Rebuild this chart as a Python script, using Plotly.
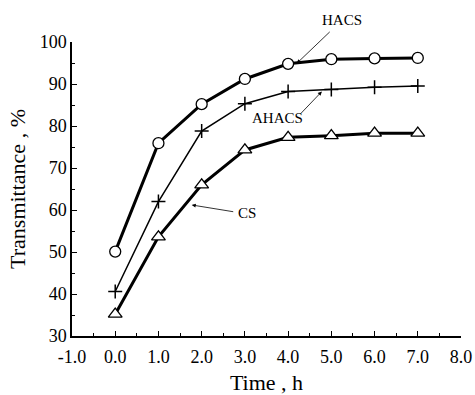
import plotly.graph_objects as go

time_h = [0, 1, 2, 3, 4, 5, 6, 7]
hacs = [50.1, 75.9, 85.2, 91.2, 94.8, 95.9, 96.1, 96.2]
ahacs = [40.6, 62.0, 78.8, 85.3, 88.2, 88.7, 89.2, 89.5]
cs = [35.2, 53.6, 66.0, 74.3, 77.3, 77.7, 78.3, 78.3]
x_ticks = [-1, 0, 1, 2, 3, 4, 5, 6, 7, 8]
x_labels = ["%.1f" % v for v in x_ticks]
y_ticks = [30, 40, 50, 60, 70, 80, 90, 100]

FONT = "Liberation Serif"

fig = go.Figure()
fig.add_trace(go.Scatter(x=time_h, y=hacs, mode="lines+markers", name="HACS",
                         line=dict(color="black", width=3),
                         marker=dict(symbol="circle", size=11, color="white",
                                     line=dict(color="black", width=1.3))))
fig.add_trace(go.Scatter(x=time_h, y=ahacs, mode="lines+markers", name="AHACS",
                         line=dict(color="black", width=1.5),
                         marker=dict(symbol="cross-thin", size=10, color="black",
                                     line=dict(color="black", width=1.5))))
fig.add_trace(go.Scatter(x=time_h, y=cs, mode="lines+markers", name="CS",
                         line=dict(color="black", width=3),
                         marker=dict(symbol="triangle-up", size=12, color="white",
                                     line=dict(color="black", width=1.3))))

labfont = dict(family=FONT, size=15, color="black")
arrow = dict(showarrow=True, arrowhead=2, arrowsize=1, arrowwidth=0.8,
             arrowcolor="black", xref="x", yref="y", axref="pixel", ayref="pixel")
# HACS label with its arrow
fig.add_annotation(x=4.2, y=94.9, ax=45, ay=-43, text="HACS", font=labfont, borderpad=3, **arrow)
# AHACS / CS arrows
fig.add_annotation(x=4.78, y=88.2, ax=-22, ay=23, text="", **arrow)
fig.add_annotation(x=1.77, y=61.2, ax=43, ay=7, text="", **arrow)

fig.add_annotation(x=3.76, y=81.9, xref="x", yref="y", text="AHACS",
                   showarrow=False, font=labfont)
fig.add_annotation(x=3.06, y=59.4, xref="x", yref="y", text="CS",
                   showarrow=False, font=labfont)

axis_common = dict(showgrid=False, zeroline=False, showline=True, linecolor="black",
                   linewidth=1.5, ticks="inside", ticklen=5, tickwidth=1.2, automargin=False,
                   tickcolor="black", tickfont=dict(family=FONT, size=18, color="black"))
fig.update_xaxes(range=[-1, 8], tickvals=x_ticks, ticktext=x_labels, ticklabelstandoff=4,
                 minor=dict(dtick=0.5, ticks="inside", ticklen=3, tickcolor="black", tickwidth=1),
                 title=dict(text="Time , h", font=dict(family=FONT, size=22, color="black"), standoff=12),
                 **axis_common)
fig.update_yaxes(range=[30, 100], tickvals=y_ticks,
                 minor=dict(dtick=5, ticks="inside", ticklen=3, tickcolor="black", tickwidth=1),
                 title=dict(text="Transmittance , %", font=dict(family=FONT, size=22, color="black"), standoff=8),
                 **axis_common)

fig.update_layout(width=475, height=395, showlegend=False,
                  margin=dict(l=72, r=14, t=42, b=59),
                  paper_bgcolor="white", plot_bgcolor="white")
fig.write_html("out.html")
